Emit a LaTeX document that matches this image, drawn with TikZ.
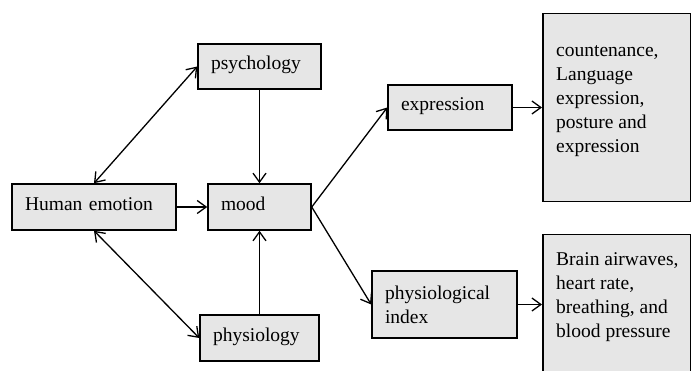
\documentclass[tikz,border=0pt]{standalone}
\usepackage{fontspec}
\setmainfont{Liberation Serif}
\usetikzlibrary{arrows.meta,positioning}
\definecolor{boxgray}{RGB}{230,230,230}
\tikzset{
  box/.style={draw, fill=boxgray, line width=1.5pt, inner xsep=13pt, inner ysep=0pt,
    align=left, font=\fontsize{19.5}{24}\selectfont},
  onebox/.style={box, text height=13pt, text depth=6pt, minimum height=46pt},
  boxtext/.style={inner sep=0pt, align=left, anchor=north west, font=\fontsize{19.5}{24}\selectfont},
  link/.style={line width=1.3pt, -{Straight Barb[length=9pt,width=13pt]}},
  twolink/.style={line width=1.3pt, {Straight Barb[length=9pt,width=13pt]}-{Straight Barb[length=9pt,width=13pt]}}
}
\newcommand{\topline}{\rule{0pt}{14pt}}
\begin{document}
\begin{tikzpicture}[x=1pt, y=-1pt]
      \useasboundingbox (0,0) rectangle (691,371);
      \node[onebox, text width=138pt] (emotion) at (94,207) {Human emotion};
      \node[onebox, text width=97pt, minimum height=45pt] (psychology) at (259.5,66.5) {psychology};
      \node[onebox, text width=77pt] (mood) at (259.5,207) {mood};
      \node[onebox, text width=93pt] (physiology) at (259.5,338) {physiology};
      \node[onebox, text width=98pt, minimum height=45pt] (expression) at (450,107.5) {expression};
      \node[box, text width=119pt, minimum height=67pt] (index) at (444.5,304.5) {physiological\\index};
      % right column
      \node[box, minimum width=148pt, minimum height=188pt, anchor=north west] (face) at (542,13) {};
      \node[boxtext] (facetext) at ([shift={(14,29)}]face.north west)
           {\topline countenance,\\Language\\expression,\\posture and\\expression};
      \node[box, minimum width=148pt, minimum height=141pt, anchor=north west] (body) at (542,234) {};
      \node[boxtext] (bodytext) at ([shift={(14,17)}]body.north west)
           {\topline Brain airwaves,\\heart rate,\\breathing, and\\blood pressure};
      \draw[twolink] (emotion.north) -- (psychology.west);
      \draw[twolink] (emotion.south) -- (physiology.west);
      \draw[link] (psychology) -- (mood);
      \draw[link] (physiology) -- (mood);
      \draw[link] (emotion) -- (mood);
      \draw[link] (mood.east) -- (expression.west);
      \draw[link] (mood.east) -- (index.west);
      \draw[link] (expression) -- (face.west |- expression);
      \draw[link] (index) -- (body.west |- index);
    \end{tikzpicture}
\end{document}
